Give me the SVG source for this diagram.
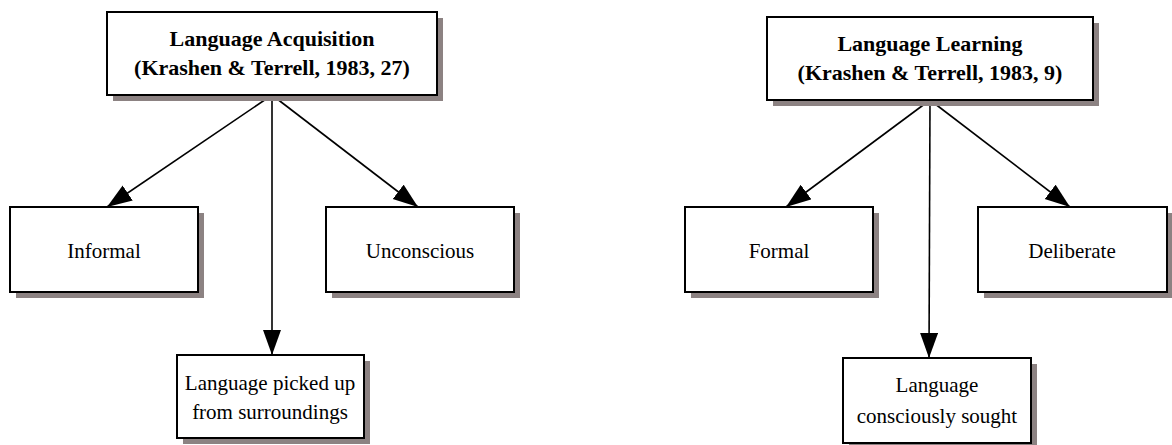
<svg xmlns="http://www.w3.org/2000/svg" width="1172" height="445" viewBox="0 0 1172 445">
  <style>
    .box { fill: #ffffff; stroke: #000000; stroke-width: 2; }
    .shadow { fill: #8c8282; }
    .head { font-family: "Liberation Serif", "Times New Roman", serif; font-size: 22px; font-weight: bold; fill: #000; text-anchor: middle; }
    .body { font-family: "Liberation Serif", "Times New Roman", serif; font-size: 21px; fill: #000; text-anchor: middle; }
    .link { stroke: #000000; stroke-width: 1.6; fill: none; marker-end: url(#arrow); }
  </style>
  <defs>
    <marker id="arrow" markerUnits="userSpaceOnUse" markerWidth="26" markerHeight="20" refX="25" refY="9" orient="auto">
      <path d="M0,0 L25,9 L0,18 Z" fill="#000000"/>
    </marker>
  </defs>
  <rect width="1172" height="445" fill="#ffffff"/>

  <!-- connectors -->
  <g id="connectors">
    <line class="link" x1="272" y1="95" x2="107" y2="207"/>
    <line class="link" x1="272" y1="95" x2="272" y2="355"/>
    <line class="link" x1="272" y1="95" x2="418" y2="207"/>
    <line class="link" x1="930" y1="100" x2="786" y2="207"/>
    <line class="link" x1="930" y1="100" x2="929" y2="358"/>
    <line class="link" x1="930" y1="100" x2="1070" y2="207"/>
  </g>

  <!-- acquisition tree -->
  <g id="acquisition">
    <rect class="shadow" x="113" y="18" width="330" height="83"/>
    <rect class="box" x="107" y="12" width="330" height="83"/>
    <text class="head" x="272" y="46">Language Acquisition</text>
    <text class="head" x="272" y="75">(Krashen &amp; Terrell, 1983, 27)</text>
  </g>
  <g id="informal">
    <rect class="shadow" x="16" y="213" width="188" height="85"/>
    <rect class="box" x="10" y="207" width="188" height="85"/>
    <text class="body" x="104" y="258">Informal</text>
  </g>
  <g id="unconscious">
    <rect class="shadow" x="332" y="213" width="188" height="85"/>
    <rect class="box" x="326" y="207" width="188" height="85"/>
    <text class="body" x="420" y="258">Unconscious</text>
  </g>
  <g id="picked-up">
    <rect class="shadow" x="183" y="361" width="187" height="83"/>
    <rect class="box" x="177" y="355" width="187" height="83"/>
    <text class="body" x="270" y="390">Language picked up</text>
    <text class="body" x="270" y="419">from surroundings</text>
  </g>

  <!-- learning tree -->
  <g id="learning">
    <rect class="shadow" x="773" y="23" width="326" height="83"/>
    <rect class="box" x="767" y="17" width="326" height="83"/>
    <text class="head" x="930" y="51">Language Learning</text>
    <text class="head" x="930" y="80">(Krashen &amp; Terrell, 1983, 9)</text>
  </g>
  <g id="formal">
    <rect class="shadow" x="691" y="213" width="188" height="85"/>
    <rect class="box" x="685" y="207" width="188" height="85"/>
    <text class="body" x="779" y="258">Formal</text>
  </g>
  <g id="deliberate">
    <rect class="shadow" x="984" y="213" width="189" height="85"/>
    <rect class="box" x="978" y="207" width="189" height="85"/>
    <text class="body" x="1072" y="258">Deliberate</text>
  </g>
  <g id="consciously-sought">
    <rect class="shadow" x="849" y="364" width="188" height="85"/>
    <rect class="box" x="843" y="358" width="188" height="85"/>
    <text class="body" x="937" y="392">Language</text>
    <text class="body" x="937" y="423">consciously sought</text>
  </g>
</svg>
